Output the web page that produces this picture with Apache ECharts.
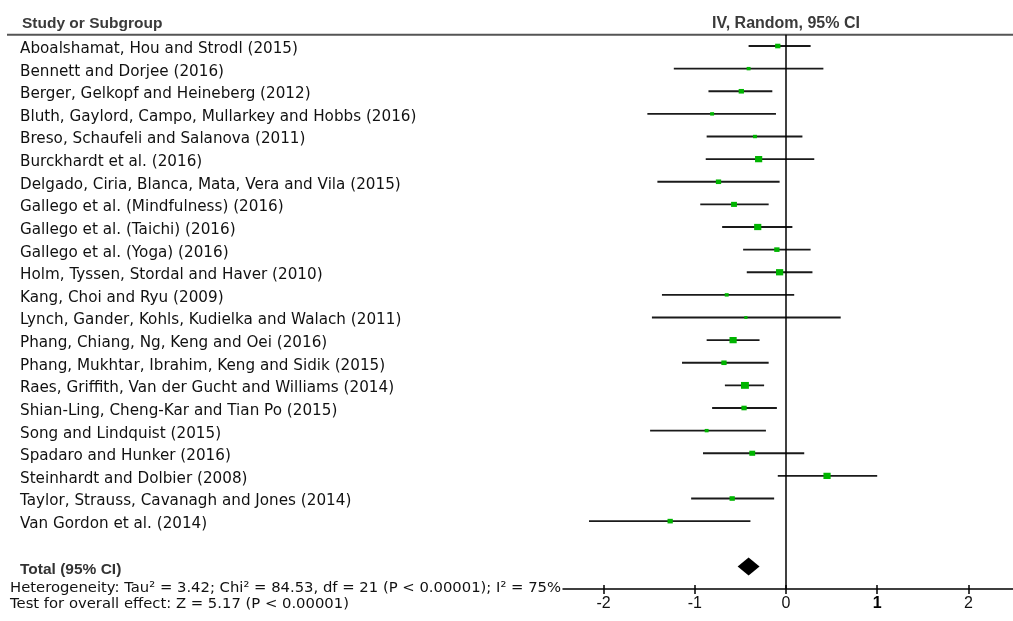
<!DOCTYPE html>
<html><head><meta charset="utf-8">
<script src="https://cdn.jsdelivr.net/npm/echarts@6/dist/echarts.min.js"></script>
<style>html,body{margin:0;padding:0;background:#fff}#c{width:1013px;height:621px}</style>
</head><body><div id="c"></div>
<script>
const studyNames = [
  'Aboalshamat, Hou and Strodl (2015)',
  'Bennett and Dorjee (2016)',
  'Berger, Gelkopf and Heineberg (2012)',
  'Bluth, Gaylord, Campo, Mullarkey and Hobbs (2016)',
  'Breso, Schaufeli and Salanova (2011)',
  'Burckhardt et al. (2016)',
  'Delgado, Ciria, Blanca, Mata, Vera and Vila (2015)',
  'Gallego et al. (Mindfulness) (2016)',
  'Gallego et al. (Taichi) (2016)',
  'Gallego et al. (Yoga) (2016)',
  'Holm, Tyssen, Stordal and Haver (2010)',
  'Kang, Choi and Ryu (2009)',
  'Lynch, Gander, Kohls, Kudielka and Walach (2011)',
  'Phang, Chiang, Ng, Keng and Oei (2016)',
  'Phang, Mukhtar, Ibrahim, Keng and Sidik (2015)',
  'Raes, Griffith, Van der Gucht and Williams (2014)',
  'Shian-Ling, Cheng-Kar and Tian Po (2015)',
  'Song and Lindquist (2015)',
  'Spadaro and Hunker (2016)',
  'Steinhardt and Dolbier (2008)',
  'Taylor, Strauss, Cavanagh and Jones (2014)',
  'Van Gordon et al. (2014)'
];
const estimates = [-0.09, -0.41, -0.49, -0.81, -0.34, -0.30, -0.74, -0.57, -0.31, -0.10, -0.07, -0.65, -0.44, -0.58, -0.68, -0.45, -0.46, -0.87, -0.37, 0.45, -0.59, -1.27];
const ciLower   = [-0.41, -1.23, -0.85, -1.52, -0.87, -0.88, -1.41, -0.94, -0.70, -0.47, -0.43, -1.36, -1.47, -0.87, -1.14, -0.67, -0.81, -1.49, -0.91, -0.09, -1.04, -2.16];
const ciUpper   = [0.27, 0.41, -0.15, -0.11, 0.18, 0.31, -0.07, -0.19, 0.07, 0.27, 0.29, 0.09, 0.60, -0.29, -0.19, -0.24, -0.10, -0.22, 0.20, 1.00, -0.13, -0.39];
const weights   = [4.0, 2.2, 4.0, 2.2, 2.2, 7.4, 4.0, 4.9, 7.4, 4.0, 7.4, 2.2, 1.5, 7.4, 4.0, 8.9, 4.0, 2.2, 4.9, 7.4, 4.0, 4.0];
const totalLabel = 'Total (95% CI)';
const totalEstimate = -0.41;
const totalLower = -0.53;
const totalUpper = -0.29;
const xTicks = [-2, -1, 0, 1, 2];
const headerLeft = 'Study or Subgroup';
const headerRight = 'IV, Random, 95% CI';
const heterogeneityText = 'Heterogeneity: Tau\u00B2 = 3.42; Chi\u00B2 = 84.53, df = 21 (P < 0.00001); I\u00B2 = 75%';
const overallText = 'Test for overall effect: Z = 5.17 (P < 0.00001)';

const totalRow = studyNames.length + 2;
const labelRows = studyNames.map((_, i) => i + 1).concat([totalRow]);
const studyData = studyNames.map((n, i) => [ciLower[i], ciUpper[i], estimates[i], i + 1, weights[i]]);

const chart = echarts.init(document.getElementById('c'));
const textFont = 'DejaVu Sans';
const boldFont = 'Liberation Sans';

chart.setOption({
  animation: false,
  backgroundColor: '#fff',
  grid: { left: 563, right: 0, top: 34.7, bottom: 32, containLabel: false },
  xAxis: [{
    type: 'value', min: -2.445, max: 2.489, position: 'bottom',
    axisLine: { show: true, onZero: false, lineStyle: { color: '#000', width: 1.5 } },
    axisTick: { show: true, customValues: xTicks, length: 5, lineStyle: { color: '#000', width: 1.5 } },
    axisLabel: {
      show: true, customValues: xTicks, margin: 7, fontFamily: boldFont, fontSize: 16, color: '#111',
      formatter: v => (v === 1 ? '{b|1}' : String(v)),
      rich: { b: { fontWeight: 'bold', fontFamily: boldFont, fontSize: 16, color: '#000' } }
    },
    splitLine: { show: false }
  }, {
    type: 'value', min: -2.445, max: 2.489, position: 'bottom', offset: 0,
    axisLine: { show: false },
    axisTick: { show: true, inside: true, customValues: xTicks, length: 4, lineStyle: { color: '#000', width: 1.5 } },
    axisLabel: { show: false },
    splitLine: { show: false }
  }],
  yAxis: {
    type: 'value', inverse: true, min: 0.5, max: totalRow + 1,
    axisLine: { show: false }, axisTick: { show: false }, splitLine: { show: false },
    axisLabel: {
      show: true, customValues: labelRows, align: 'left', margin: 543,
      fontFamily: textFont, fontSize: 15.2, color: '#111', padding: [6, 0, 0, 0],
      formatter: v => (v === totalRow ? '{t|' + totalLabel + '}' : studyNames[v - 1]),
      rich: { t: { fontWeight: 'bold', fontFamily: boldFont, fontSize: 15.5, color: '#333' } }
    }
  },
  series: [{
    type: 'custom',
    data: studyData,
    encode: { x: [0, 1, 2], y: 3 },
    renderItem: (params, api) => {
      const row = api.value(3);
      const lo = api.coord([api.value(0), row]);
      const hi = api.coord([api.value(1), row]);
      const c = api.coord([api.value(2), row]);
      const s = Math.sqrt(api.value(4)) * 2.3;
      const w = s * 1.15;
      return {
        type: 'group',
        children: [
          { type: 'line', shape: { x1: lo[0], y1: lo[1], x2: hi[0], y2: hi[1] }, style: { stroke: '#1a1a1a', lineWidth: 1.9 } },
          { type: 'rect', shape: { x: c[0] - w / 2, y: c[1] - s / 2, width: w, height: s }, style: { fill: '#00b400' } }
        ]
      };
    },
    markLine: {
      silent: true, symbol: 'none', label: { show: false },
      lineStyle: { color: '#000', width: 1.5, type: 'solid' },
      data: [{ xAxis: 0 }]
    }
  }, {
    type: 'custom',
    data: [[totalLower, totalEstimate, totalUpper, totalRow]],
    encode: { x: [0, 1, 2], y: 3 },
    renderItem: (params, api) => {
      const row = api.value(3);
      const l = api.coord([api.value(0), row]);
      const m = api.coord([api.value(1), row]);
      const r = api.coord([api.value(2), row]);
      const h = 9;
      return {
        type: 'polygon',
        shape: { points: [[l[0], l[1]], [m[0], m[1] - h], [r[0], r[1]], [m[0], m[1] + h]] },
        style: { fill: '#000' }
      };
    }
  }]
});

const zeroX = chart.convertToPixel({ xAxisIndex: 0 }, 0);
const ruleY = chart.convertToPixel({ yAxisIndex: 0 }, 0.5);
const headerY = chart.convertToPixel({ yAxisIndex: 0 }, 0);
const axisY = chart.convertToPixel({ yAxisIndex: 0 }, totalRow + 1);
chart.setOption({
  graphic: [
    { type: 'line', shape: { x1: 7, y1: ruleY, x2: 1013, y2: ruleY }, style: { stroke: '#555', lineWidth: 2 }, silent: true },
    { type: 'text', style: { x: 22, y: headerY, text: headerLeft, font: 'bold 15.5px "Liberation Sans"', fill: '#3a3a3a', align: 'left', verticalAlign: 'middle' } },
    { type: 'text', style: { x: zeroX, y: headerY, text: headerRight, font: 'bold 16px "Liberation Sans"', fill: '#3a3a3a', align: 'center', verticalAlign: 'middle' } },
    { type: 'text', style: { x: 10, y: axisY - 1, text: heterogeneityText, font: '14.8px "DejaVu Sans"', fill: '#111', align: 'left', verticalAlign: 'middle' } },
    { type: 'text', style: { x: 10, y: axisY + 15, text: overallText, font: '14.8px "DejaVu Sans"', fill: '#111', align: 'left', verticalAlign: 'middle' } }
  ]
});
</script>
</body></html>
